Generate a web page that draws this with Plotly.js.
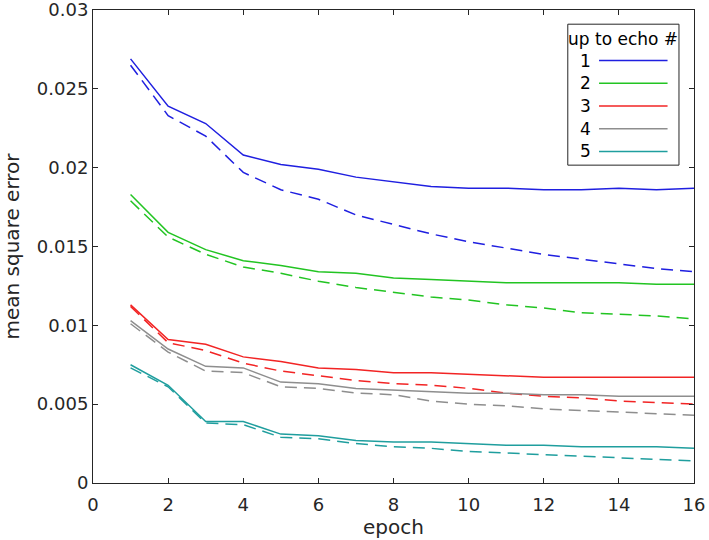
<!DOCTYPE html>
<html>
<head>
<meta charset="utf-8">
<script src="https://cdn.plot.ly/plotly-3.0.1.min.js"></script>
<style>html,body{margin:0;padding:0;background:#fff;}#chart{width:709px;height:540px;}</style>
</head>
<body>
<div id="chart"></div>
<script>
const epochs = [1,2,3,4,5,6,7,8,9,10,11,12,13,14,15,16];
const echoNames = ["1","2","3","4","5"];
const colors = ["#1f1fe0","#22c422","#f22424","#8e8e8e","#1f9e9e"];

const solid1 = [0.0269,0.0239,0.0228,0.0208,0.0202,0.0199,0.0194,0.0191,0.0188,0.0187,0.0187,0.0186,0.0186,0.0187,0.0186,0.0187];
const dashed1 = [0.0265,0.0233,0.0220,0.0197,0.0186,0.0180,0.0170,0.0164,0.0158,0.0153,0.0149,0.0145,0.0142,0.0139,0.0136,0.0134];
const solid2 = [0.0183,0.0159,0.0148,0.0141,0.0138,0.0134,0.0133,0.0130,0.0129,0.0128,0.0127,0.0127,0.0127,0.0127,0.0126,0.0126];
const dashed2 = [0.0179,0.0156,0.0145,0.0137,0.0133,0.0128,0.0124,0.0121,0.0118,0.0116,0.0113,0.0111,0.0108,0.0107,0.0106,0.0104];
const solid3 = [0.0113,0.0091,0.0088,0.0080,0.0077,0.0073,0.0072,0.0070,0.0070,0.0069,0.0068,0.0067,0.0067,0.0067,0.0067,0.0067];
const dashed3 = [0.0112,0.0089,0.0084,0.0076,0.0071,0.0068,0.0065,0.0063,0.0062,0.0060,0.0057,0.0055,0.0054,0.0052,0.0051,0.0050];
const solid4 = [0.0103,0.0085,0.0074,0.0073,0.0064,0.0063,0.0060,0.0059,0.0058,0.0057,0.0057,0.0056,0.0056,0.0055,0.0055,0.0055];
const dashed4 = [0.0101,0.0083,0.0071,0.0070,0.0061,0.0060,0.0057,0.0056,0.0052,0.0050,0.0049,0.0047,0.0046,0.0045,0.0044,0.0043];
const solid5 = [0.0075,0.0062,0.0039,0.0039,0.0031,0.0030,0.0027,0.0026,0.0026,0.0025,0.0024,0.0024,0.0023,0.0023,0.0023,0.0022];
const dashed5 = [0.0073,0.0061,0.0038,0.0037,0.0029,0.0028,0.0025,0.0023,0.0022,0.0020,0.0019,0.0018,0.0017,0.0016,0.0015,0.0014];

const xTickVals = [0,2,4,6,8,10,12,14,16];
const yTickVals = [0,0.005,0.01,0.015,0.02,0.025,0.03];
const yTickText = ["0","0.005","0.01","0.015","0.02","0.025","0.03"];

const solids = [solid1,solid2,solid3,solid4,solid5];
const dasheds = [dashed1,dashed2,dashed3,dashed4,dashed5];

const traces = [];
for (let i = 0; i < 5; i++) {
  traces.push({x: epochs, y: solids[i], mode: 'lines', name: echoNames[i], showlegend: false,
    line: {color: colors[i], width: 1.5}, hoverinfo: 'skip'});
  traces.push({x: epochs, y: dasheds[i], mode: 'lines', name: echoNames[i] + ' dashed', showlegend: false,
    line: {color: colors[i], width: 1.5, dash: '12px,7px'}, hoverinfo: 'skip'});
}

const fam = 'DejaVu Sans, Verdana, sans-serif';
const txt = '#262626';

// custom legend (paper coords)
const legX0 = 0.790, legX1 = 0.975, legY0 = 0.672, legY1 = 0.970;
const rowY = [0.893, 0.845, 0.797, 0.749, 0.701];
const shapes = [{type: 'rect', xref: 'paper', yref: 'paper', x0: legX0, x1: legX1, y0: legY0, y1: legY1,
  line: {color: '#262626', width: 1}, fillcolor: '#ffffff', layer: 'above'}];
const annotations = [{xref: 'paper', yref: 'paper', x: (legX0 + legX1) / 2, y: 0.939, text: 'up to echo #',
  showarrow: false, xanchor: 'center', yanchor: 'middle', font: {family: fam, size: 17, color: '#000'}}];
for (let i = 0; i < 5; i++) {
  shapes.push({type: 'line', xref: 'paper', yref: 'paper', x0: 0.842, x1: 0.956, y0: rowY[i], y1: rowY[i],
    line: {color: colors[i], width: 1.5}, layer: 'above'});
  annotations.push({xref: 'paper', yref: 'paper', x: 0.820, y: rowY[i], text: echoNames[i], showarrow: false,
    xanchor: 'center', yanchor: 'middle', font: {family: fam, size: 17, color: '#000'}});
}

const layout = {
  width: 709, height: 540,
  margin: {l: 93, r: 15, t: 10, b: 57},
  paper_bgcolor: '#fff', plot_bgcolor: '#fff',
  font: {family: fam, size: 18, color: txt},
  showlegend: false,
  xaxis: {range: [0, 16], tickvals: xTickVals, ticks: 'inside', ticklen: 5, tickcolor: txt,
    showline: true, linecolor: txt, linewidth: 1, mirror: 'ticks', showgrid: false, zeroline: false,
    ticklabelstandoff: 5,
    title: {text: 'epoch', font: {family: fam, size: 20, color: txt}, standoff: 4},
    tickfont: {family: fam, size: 18, color: txt}},
  yaxis: {range: [0, 0.03], tickvals: yTickVals, ticktext: yTickText, ticks: 'inside', ticklen: 5, tickcolor: txt,
    showline: true, linecolor: txt, linewidth: 1, mirror: 'ticks', showgrid: false, zeroline: false,
    ticklabeloverflow: 'allow',
    title: {text: 'mean square error', font: {family: fam, size: 20, color: txt}, standoff: 24},
    tickfont: {family: fam, size: 18, color: txt}},
  shapes: shapes,
  annotations: annotations
};

Plotly.newPlot('chart', traces, layout, {staticPlot: true, displayModeBar: false});
</script>
</body>
</html>
